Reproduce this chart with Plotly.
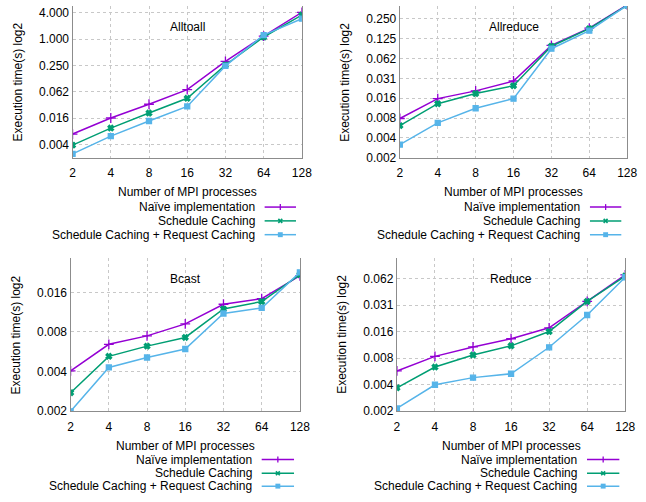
import plotly.graph_objects as go
import math

procs = [2, 4, 8, 16, 32, 64, 128]
series_names = ["Naïve implementation", "Schedule Caching", "Schedule Caching + Request Caching"]

alltoall_naive = [0.0068, 0.0158, 0.0326, 0.070, 0.31, 1.17, 4.1]
alltoall_sched = [0.0038, 0.0093, 0.0205, 0.0445, 0.257, 1.12, 3.55]
alltoall_req = [0.0024, 0.0061, 0.0135, 0.029, 0.245, 1.24, 2.93]

allreduce_naive = [0.0077, 0.0154, 0.0202, 0.0285, 0.099, 0.181, 0.406]
allreduce_sched = [0.0060, 0.0129, 0.0184, 0.0242, 0.096, 0.177, 0.40]
allreduce_req = [0.0031, 0.0066, 0.0110, 0.0154, 0.088, 0.165, 0.40]

bcast_naive = [0.00395, 0.0063, 0.0073, 0.0090, 0.0127, 0.0140, 0.0209]
bcast_sched = [0.0027, 0.0051, 0.0061, 0.0071, 0.0117, 0.0133, 0.0213]
bcast_req = [0.00195, 0.0042, 0.0050, 0.0058, 0.0108, 0.0119, 0.0222]

reduce_naive = [0.0056, 0.0082, 0.0105, 0.0130, 0.0173, 0.0345, 0.069]
reduce_sched = [0.0036, 0.0062, 0.0085, 0.0108, 0.0157, 0.0345, 0.067]
reduce_req = [0.0021, 0.0039, 0.0047, 0.0052, 0.0104, 0.0242, 0.065]

alltoall_ticks = ["0.004", "0.016", "0.062", "0.250", "1.000", "4.000"]
allreduce_ticks = ["0.002", "0.004", "0.008", "0.016", "0.031", "0.062", "0.125", "0.250"]
bcast_ticks = ["0.002", "0.004", "0.008", "0.016"]
reduce_ticks = ["0.002", "0.004", "0.008", "0.016", "0.031", "0.062"]

W, H = 646, 502
FONT = "Liberation Sans, Arial, sans-serif"
colors = ["#9400D3", "#009E73", "#56B4E9"]
symbols = ["cross-thin", "x", "square"]
msizes = [7, 5, 5]

panels = [
    dict(name="Alltoall", data=[alltoall_naive, alltoall_sched, alltoall_req],
         texps=[-8, -6, -4, -2, 0, 2], ttext=alltoall_ticks,
         box=(71, 305, 6, 160), yr=(-9, 2.52),
         leg=dict(tx=259, l0=267, l1=299, ys=[210, 224, 238]),
         xtitle_y=195, ytitle_x=15),
    dict(name="Allreduce", data=[allreduce_naive, allreduce_sched, allreduce_req],
         texps=[-9, -8, -7, -6, -5, -4, -3, -2], ttext=allreduce_ticks,
         box=(405, 637, 6, 160), yr=(-9, -1.35),
         leg=dict(tx=591, l0=599, l1=631, ys=[210, 224, 238]),
         xtitle_y=195, ytitle_x=349),
    dict(name="Bcast", data=[bcast_naive, bcast_sched, bcast_req],
         texps=[-9, -8, -7, -6], ttext=bcast_ticks,
         box=(69, 303, 262, 417), yr=(-9, -5.14),
         leg=dict(tx=256, l0=264, l1=297, ys=[466, 480, 493]),
         xtitle_y=452, ytitle_x=13),
    dict(name="Reduce", data=[reduce_naive, reduce_sched, reduce_req],
         texps=[-9, -8, -7, -6, -5, -4], ttext=reduce_ticks,
         box=(402, 635, 262, 417), yr=(-9, -3.23),
         leg=dict(tx=588, l0=596, l1=629, ys=[466, 480, 493]),
         xtitle_y=452, ytitle_x=346),
]

fig = go.Figure()
annotations = []
shapes = []

def px_x(x):
    return x / W

def px_y(y):
    return 1 - y / H

for i, p in enumerate(panels):
    k = "" if i == 0 else str(i + 1)
    L, R, T, B = p["box"]
    for j in range(3):
        fig.add_trace(go.Scatter(
            x=procs, y=p["data"][j], mode="lines+markers",
            line=dict(color=colors[j], width=1.5),
            marker=dict(symbol=symbols[j], size=msizes[j], color=colors[j],
                        line=dict(color=colors[j], width=1.3)),
            name=series_names[j], showlegend=False,
            xaxis="x" + k, yaxis="y" + k))
    xa = dict(type="log", domain=[px_x(L), px_x(R)],
              range=[math.log10(2), math.log10(128)],
              tickvals=procs, ticktext=[str(v) for v in procs],
              showgrid=True, gridcolor="#c8c8c8", griddash="dot", gridwidth=1,
              showline=True, linecolor="#8c8c8c", linewidth=1.3, mirror=False,
              ticks="", zeroline=False, ticklabelstandoff=4,
              tickfont=dict(family=FONT, size=12, color="#000"),
              anchor="y" + k)
    ya = dict(type="log", domain=[px_y(B), px_y(T)],
              range=[p["yr"][0] * math.log10(2), p["yr"][1] * math.log10(2)],
              tickvals=[2.0 ** e for e in p["texps"]], ticktext=p["ttext"],
              showgrid=True, gridcolor="#c8c8c8", griddash="dot", gridwidth=1,
              showline=True, linecolor="#8c8c8c", linewidth=1.3, mirror=True,
              ticks="", zeroline=False,
              tickfont=dict(family=FONT, size=12, color="#000"),
              anchor="x" + k)
    fig.update_layout(**{"xaxis" + k: xa, "yaxis" + k: ya})

    cx = (L + R) / 2
    annotations.append(dict(x=px_x(cx), y=px_y(T + 21), xref="paper", yref="paper",
                            text=p["name"], showarrow=False,
                            font=dict(family=FONT, size=12, color="#000"),
                            xanchor="center", yanchor="middle"))
    annotations.append(dict(x=px_x(cx), y=px_y(p["xtitle_y"]), xref="paper", yref="paper",
                            text="Number of MPI processes", showarrow=False,
                            font=dict(family=FONT, size=12, color="#000"),
                            xanchor="center", yanchor="middle"))
    annotations.append(dict(x=px_x(p["ytitle_x"]), y=px_y((T + B) / 2), xref="paper", yref="paper",
                            text="Execution time(s) log2", showarrow=False, textangle=-90,
                            font=dict(family=FONT, size=12, color="#000"),
                            xanchor="center", yanchor="middle"))
    lg = p["leg"]
    for j in range(3):
        yy = lg["ys"][j]
        annotations.append(dict(x=px_x(lg["tx"]), y=px_y(yy), xref="paper", yref="paper",
                                text=series_names[j], showarrow=False,
                                font=dict(family=FONT, size=12, color="#000"),
                                xanchor="right", yanchor="middle"))
        shapes.append(dict(type="line", xref="paper", yref="paper",
                           x0=px_x(lg["l0"]), x1=px_x(lg["l1"]), y0=px_y(yy), y1=px_y(yy),
                           line=dict(color=colors[j], width=1.5)))
        mx = (lg["l0"] + lg["l1"]) / 2
        if j == 0:
            shapes.append(dict(type="line", xref="paper", yref="paper",
                               x0=px_x(mx), x1=px_x(mx), y0=px_y(yy - 3), y1=px_y(yy + 3),
                               line=dict(color=colors[j], width=1.3)))
        elif j == 1:
            for s in (1, -1):
                shapes.append(dict(type="line", xref="paper", yref="paper",
                                   x0=px_x(mx - 2), x1=px_x(mx + 2),
                                   y0=px_y(yy - 2 * s), y1=px_y(yy + 2 * s),
                                   line=dict(color=colors[j], width=1.6)))
        else:
            shapes.append(dict(type="rect", xref="paper", yref="paper",
                               x0=px_x(mx - 2.5), x1=px_x(mx + 2.5), y0=px_y(yy - 2.5), y1=px_y(yy + 2.5),
                               line=dict(color=colors[j], width=0), fillcolor=colors[j]))

fig.update_layout(width=W, height=H, margin=dict(l=0, r=0, t=0, b=0),
                  paper_bgcolor="white", plot_bgcolor="white",
                  showlegend=False, annotations=annotations, shapes=shapes,
                  font=dict(family=FONT, size=12, color="#000"))

fig.write_html("out.html")
